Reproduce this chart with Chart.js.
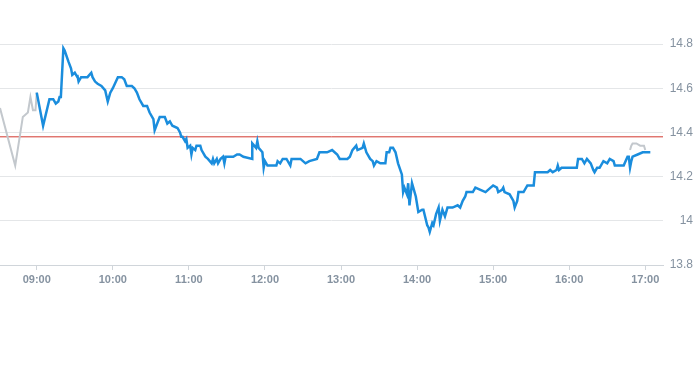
<!DOCTYPE html>
<html>
<head>
<meta charset="utf-8">
<script src="https://cdn.jsdelivr.net/npm/chart.js@4/dist/chart.umd.min.js"></script>
<style>
  html, body { margin: 0; padding: 0; background: #fff; }
  #wrap { width: 693px; height: 365px; }
</style>
</head>
<body>
<div id="wrap"><canvas id="priceChart" width="693" height="365"></canvas></div>
<script>
// hour labels on the time axis
const hourLabels = ["09:00", "10:00", "11:00", "12:00", "13:00", "14:00", "15:00", "16:00", "17:00"];
const yTicks = [13.8, 14, 14.2, 14.4, 14.6, 14.8];
const prevClose = 14.38;

// pre-market (grey)
const preTimes  = ["08:31", "08:43", "08:49", "08:53", "08:55", "08:57", "08:59", "09:00"];
const preValues = [14.51, 14.25, 14.47, 14.49, 14.56, 14.50, 14.50, 14.58];

// regular session (blue)
const times = [
  "09:00", "09:05", "09:10", "09:13", "09:15", "09:17", "09:18", "09:19", "09:21", "09:22",
  "09:25", "09:27", "09:28", "09:30", "09:32", "09:32", "09:33", "09:35", "09:40", "09:43",
  "09:44", "09:46", "09:48", "09:51", "09:54", "09:56", "09:58", "10:00", "10:04", "10:07",
  "10:09", "10:11", "10:15", "10:17", "10:19", "10:21", "10:24", "10:27", "10:29", "10:32",
  "10:33", "10:35", "10:37", "10:41", "10:43", "10:45", "10:47", "10:51", "10:53", "10:54",
  "10:55", "10:57", "10:58", "10:59", "11:01", "11:02", "11:03", "11:05", "11:06", "11:09",
  "11:10", "11:13", "11:15", "11:18", "11:19", "11:20", "11:22", "11:23", "11:25", "11:27",
  "11:28", "11:29", "11:32", "11:35", "11:38", "11:40", "11:43", "11:50", "11:50", "11:53",
  "11:54", "11:55", "11:58", "11:59", "12:00", "12:02", "12:06", "12:09", "12:10", "12:12",
  "12:14", "12:17", "12:20", "12:21", "12:25", "12:28", "12:32", "12:35", "12:41", "12:43",
  "12:49", "12:53", "12:57", "12:59", "13:05", "13:07", "13:09", "13:12", "13:13", "13:17",
  "13:18", "13:20", "13:23", "13:25", "13:26", "13:28", "13:31", "13:35", "13:36", "13:38",
  "13:39", "13:41", "13:43", "13:45", "13:48", "13:49", "13:50", "13:52", "13:53", "13:54",
  "13:56", "13:57", "13:59", "14:01", "14:04", "14:05", "14:08", "14:09", "14:10", "14:12",
  "14:13", "14:15", "14:17", "14:18", "14:20", "14:22", "14:24", "14:28", "14:32", "14:34",
  "14:36", "14:38", "14:39", "14:42", "14:44", "14:46", "14:50", "14:54", "14:58", "15:00",
  "15:03", "15:04", "15:07", "15:08", "15:09", "15:13", "15:16", "15:17", "15:19", "15:20",
  "15:21", "15:24", "15:27", "15:32", "15:33", "15:37", "15:41", "15:43", "15:45", "15:47",
  "15:50", "15:51", "15:52", "15:54", "15:58", "16:06", "16:07", "16:10", "16:12", "16:14",
  "16:17", "16:19", "16:20", "16:22", "16:24", "16:27", "16:30", "16:32", "16:35", "16:36",
  "16:43", "16:46", "16:47", "16:48", "16:49", "16:50", "16:54", "16:58", "17:02", "17:04"
];
const prices = [
  14.58, 14.43, 14.55, 14.55, 14.53, 14.54, 14.56, 14.56, 14.78, 14.77,
  14.72, 14.69, 14.66, 14.67, 14.65, 14.66, 14.63, 14.65, 14.65, 14.67,
  14.65, 14.63, 14.62, 14.61, 14.59, 14.54, 14.58, 14.60, 14.65, 14.65,
  14.64, 14.61, 14.61, 14.60, 14.58, 14.55, 14.52, 14.52, 14.49, 14.46,
  14.41, 14.44, 14.47, 14.47, 14.44, 14.45, 14.43, 14.42, 14.40, 14.38,
  14.38, 14.36, 14.37, 14.33, 14.34, 14.30, 14.33, 14.32, 14.34, 14.34,
  14.32, 14.29, 14.28, 14.26, 14.28, 14.26, 14.28, 14.26, 14.28, 14.29,
  14.26, 14.29, 14.29, 14.29, 14.30, 14.30, 14.29, 14.28, 14.35, 14.33,
  14.36, 14.33, 14.31, 14.24, 14.27, 14.25, 14.25, 14.25, 14.27, 14.26,
  14.28, 14.28, 14.25, 14.28, 14.28, 14.28, 14.26, 14.27, 14.28, 14.31,
  14.31, 14.32, 14.30, 14.28, 14.28, 14.29, 14.32, 14.34, 14.32, 14.33,
  14.35, 14.31, 14.28, 14.27, 14.25, 14.27, 14.26, 14.26, 14.31, 14.31,
  14.33, 14.33, 14.31, 14.26, 14.21, 14.13, 14.15, 14.12, 14.17, 14.07,
  14.17, 14.15, 14.11, 14.04, 14.05, 14.05, 13.98, 13.97, 13.95, 13.99,
  13.98, 14.03, 14.06, 14.00, 14.05, 14.02, 14.06, 14.06, 14.07, 14.06,
  14.09, 14.11, 14.13, 14.13, 14.13, 14.15, 14.14, 14.13, 14.15, 14.16,
  14.15, 14.13, 14.14, 14.15, 14.13, 14.12, 14.09, 14.06, 14.09, 14.13,
  14.13, 14.13, 14.16, 14.16, 14.22, 14.22, 14.22, 14.22, 14.23, 14.22,
  14.23, 14.25, 14.23, 14.24, 14.24, 14.24, 14.28, 14.28, 14.26, 14.28,
  14.26, 14.23, 14.22, 14.24, 14.24, 14.27, 14.26, 14.28, 14.27, 14.25,
  14.25, 14.29, 14.29, 14.24, 14.27, 14.29, 14.30, 14.31, 14.31, 14.31
];

// after-hours (grey)
const postTimes  = ["16:48", "16:49", "16:50", "16:53", "16:56", "16:59", "17:00"];
const postValues = [14.32, 14.34, 14.35, 14.35, 14.34, 14.34, 14.32];

function toMin(s) {
  const p = s.split(":");
  return parseInt(p[0], 10) * 60 + parseInt(p[1], 10);
}
function toLabel(v) {
  const h = Math.floor(v / 60), m = v % 60;
  return String(h).padStart(2, "0") + ":" + String(m).padStart(2, "0");
}
function pts(ts, vs) {
  return ts.map((t, i) => ({ x: toMin(t), y: vs[i] }));
}

const xMin = toMin("08:31");
const xMax = toMin("17:14");

new Chart(document.getElementById("priceChart"), {
  type: "line",
  data: {
    datasets: [
      {
        label: "prev close",
        data: [{ x: xMin, y: prevClose }, { x: xMax, y: prevClose }],
        borderColor: "#d2382f",
        borderWidth: 1,
        pointRadius: 0,
        order: 3
      },
      {
        label: "pre",
        data: pts(preTimes, preValues),
        borderColor: "#c3c8cd",
        borderWidth: 2,
        pointRadius: 0,
        order: 2
      },
      {
        label: "post",
        data: pts(postTimes, postValues),
        borderColor: "#c3c8cd",
        borderWidth: 2,
        pointRadius: 0,
        order: 2
      },
      {
        label: "price",
        data: pts(times, prices),
        borderColor: "#1a8ddd",
        borderWidth: 2.5,
        pointRadius: 0,
        order: 1
      }
    ]
  },
  options: {
    responsive: false,
    animation: false,
    layout: { padding: { top: 44, bottom: 70, left: 0, right: 0 } },
    plugins: { legend: { display: false }, tooltip: { enabled: false } },
    scales: {
      x: {
        type: "linear",
        min: xMin,
        max: xMax,
        afterBuildTicks: (scale) => { scale.ticks = hourLabels.map(l => ({ value: toMin(l) })); },
        afterFit: (scale) => { scale.height = 30; },
        grid: { drawOnChartArea: false, drawTicks: true, tickLength: 5, color: "#d0d5da" },
        border: { display: true, color: "#d0d5da" },
        ticks: {
          autoSkip: false,
          maxRotation: 0,
          padding: 3,
          color: "#8592a0",
          font: { family: "Liberation Sans", size: 11, weight: "bold" },
          callback: (v) => toLabel(v)
        }
      },
      y: {
        position: "right",
        min: yTicks[0],
        max: yTicks[yTicks.length - 1],
        afterBuildTicks: (scale) => { scale.ticks = yTicks.map(v => ({ value: v })); },
        afterFit: (scale) => { scale.width = 30; },
        grid: { color: "#e4e6e8", drawTicks: false },
        border: { display: false },
        ticks: {
          crossAlign: "far",
          padding: 0,
          color: "#8592a0",
          font: { family: "Liberation Sans", size: 12 },
          callback: (v) => String(Math.round(v * 10) / 10)
        }
      }
    }
  }
});
</script>
</body>
</html>
